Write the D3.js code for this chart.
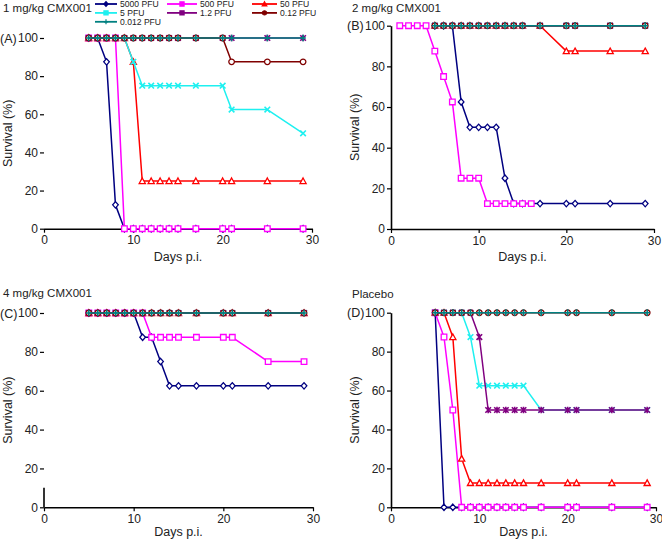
<!DOCTYPE html>
<html>
<head>
<meta charset="utf-8">
<script src="https://cdn.jsdelivr.net/npm/d3@7"></script>
<style>
  html, body { margin: 0; padding: 0; background: #fff; }
  svg { display: block; font-family: "Liberation Sans", Arial, sans-serif; }
</style>
</head>
<body>
<svg id="chart" width="662" height="540"></svg>
<script>
// ---------- DATA ----------
const seriesNames = ["5000 PFU", "500 PFU", "50 PFU", "5 PFU", "1.2 PFU", "0.12 PFU", "0.012 PFU"];
const seriesColors = ["#000080", "#ff00ff", "#ff0000", "#1ef0f0", "#800080", "#800000", "#008080"];
const seriesMarkers = ["diamond", "square", "triangle", "times", "asterisk", "circle", "plus"];
const legendMarkers = ["diamondF", "squareF", "triangleF", "squareF", "squareF", "circleF", "plus"];

const xTicks = [0, 10, 20, 30];
const yTicks = [0, 20, 40, 60, 80, 100];

// Panel A: 1 mg/kg CMX001
const daysA = [5, 6, 7, 8, 9, 10, 11, 12, 13, 14, 15, 17, 20, 21, 25, 29];
const A_5000 = [100, 100, 87.5, 12.5, 0, 0, 0, 0, 0, 0, 0, 0, 0, 0, 0, 0];
const A_500  = [100, 100, 100, 100, 0, 0, 0, 0, 0, 0, 0, 0, 0, 0, 0, 0];
const A_50   = [100, 100, 100, 100, 100, 87.5, 25, 25, 25, 25, 25, 25, 25, 25, 25, 25];
const A_5    = [100, 100, 100, 100, 100, 87.5, 75, 75, 75, 75, 75, 75, 75, 62.5, 62.5, 50];
const A_1_2  = [100, 100, 100, 100, 100, 100, 100, 100, 100, 100, 100, 100, 100, 100, 100, 100];
const A_0_12 = [100, 100, 100, 100, 100, 100, 100, 100, 100, 100, 100, 100, 100, 87.5, 87.5, 87.5];
const A_0_012= [100, 100, 100, 100, 100, 100, 100, 100, 100, 100, 100, 100, 100, 100, 100, 100];

// Panel B: 2 mg/kg CMX001
const daysB = [1, 2, 3, 4, 5, 6, 7, 8, 9, 10, 11, 12, 13, 14, 15, 16, 17, 20, 21, 25, 29];
const B_5000 = [null, null, null, null, 100, 100, 100, 62.5, 50, 50, 50, 50, 25, 12.5, 12.5, null, 12.5, 12.5, 12.5, 12.5, 12.5];
const B_500  = [100, 100, 100, 100, 87.5, 75, 62.5, 25, 25, 25, 12.5, 12.5, 12.5, 12.5, 12.5, 12.5, null, null, null, null, null];
const B_50   = [null, null, null, null, 100, 100, 100, 100, 100, 100, 100, 100, 100, 100, 100, null, 100, 87.5, 87.5, 87.5, 87.5];
const B_5    = [null, null, null, null, 100, 100, 100, 100, 100, 100, 100, 100, 100, 100, 100, null, 100, 100, 100, 100, 100];
const B_1_2  = [null, null, null, null, 100, 100, 100, 100, 100, 100, 100, 100, 100, 100, 100, null, 100, 100, 100, 100, 100];
const B_0_12 = [null, null, null, null, 100, 100, 100, 100, 100, 100, 100, 100, 100, 100, 100, null, 100, 100, 100, 100, 100];
const B_0_012= [null, null, null, null, 100, 100, 100, 100, 100, 100, 100, 100, 100, 100, 100, null, 100, 100, 100, 100, 100];

// Panel C: 4 mg/kg CMX001
const daysC = [5, 6, 7, 8, 9, 10, 11, 12, 13, 14, 15, 17, 20, 21, 25, 29];
const C_5000 = [100, 100, 100, 100, 100, 100, 87.5, 87.5, 75, 62.5, 62.5, 62.5, 62.5, 62.5, 62.5, 62.5];
const C_500  = [100, 100, 100, 100, 100, 100, 100, 87.5, 87.5, 87.5, 87.5, 87.5, 87.5, 87.5, 75, 75];
const C_50   = [100, 100, 100, 100, 100, 100, 100, 100, 100, 100, 100, 100, 100, 100, 100, 100];
const C_5    = [100, 100, 100, 100, 100, 100, 100, 100, 100, 100, 100, 100, 100, 100, 100, 100];
const C_1_2  = [100, 100, 100, 100, 100, 100, 100, 100, 100, 100, 100, 100, 100, 100, 100, 100];
const C_0_12 = [100, 100, 100, 100, 100, 100, 100, 100, 100, 100, 100, 100, 100, 100, 100, 100];
const C_0_012= [100, 100, 100, 100, 100, 100, 100, 100, 100, 100, 100, 100, 100, 100, 100, 100];

// Panel D: Placebo
const daysD = [5, 6, 7, 8, 9, 10, 11, 12, 13, 14, 15, 17, 20, 21, 25, 29];
const D_5000 = [100, 0, 0, 0, 0, 0, 0, 0, 0, 0, 0, 0, 0, 0, 0, 0];
const D_500  = [100, 87.5, 50, 0, 0, 0, 0, 0, 0, 0, 0, 0, 0, 0, 0, 0];
const D_50   = [100, 100, 87.5, 25, 12.5, 12.5, 12.5, 12.5, 12.5, 12.5, 12.5, 12.5, 12.5, 12.5, 12.5, 12.5];
const D_5    = [100, 100, 100, 100, 87.5, 62.5, 62.5, 62.5, 62.5, 62.5, 62.5, 50, 50, 50, 50, 50];
const D_1_2  = [100, 100, 100, 100, 100, 87.5, 50, 50, 50, 50, 50, 50, 50, 50, 50, 50];
const D_0_12 = [100, 100, 100, 100, 100, 100, 100, 100, 100, 100, 100, 100, 100, 100, 100, 100];
const D_0_012= [100, 100, 100, 100, 100, 100, 100, 100, 100, 100, 100, 100, 100, 100, 100, 100];

const panelTitles = ["1 mg/kg CMX001", "2 mg/kg CMX001", "4 mg/kg CMX001", "Placebo"];
const panelLetters = ["(A)", "(B)", "(C)", "(D)"];

// ---------- LAYOUT ----------
const panels = [
  { days: daysA, series: [A_5000, A_500, A_50, A_5, A_1_2, A_0_12, A_0_012],
    x0: 44, x1: 312, yTop: 38, yBot: 228.7, yAxis: "none", titleX: 3, titleY: 12, letterX: 0, xLab: 32 },
  { days: daysB, series: [B_5000, B_500, B_50, B_5, B_1_2, B_0_12, B_0_012],
    x0: 391, x1: 654, yTop: 25.7, yBot: 229, yAxis: "full", titleX: 352, titleY: 11.5, letterX: 347, xLab: 32 },
  { days: daysC, series: [C_5000, C_500, C_50, C_5, C_1_2, C_0_12, C_0_012],
    x0: 44, x1: 313, yTop: 313, yBot: 507.3, yAxis: "stub", titleX: 3, titleY: 297, letterX: 0, xLab: 28.5 },
  { days: daysD, series: [D_5000, D_500, D_50, D_5, D_1_2, D_0_12, D_0_012],
    x0: 391, x1: 656, yTop: 312.7, yBot: 507.3, yAxis: "full", titleX: 352, titleY: 298, letterX: 347, xLab: 28.5 }
];

const svg = d3.select("#chart");
const FONT = "'Liberation Sans', Arial, sans-serif";

function markerPath(type, s) {
  switch (type) {
    case "diamond": case "diamondF": return `M0,${-s*1.15}L${s},0L0,${s*1.15}L${-s},0Z`;
    case "square": case "squareF": return `M${-s},${-s}H${s}V${s}H${-s}Z`;
    case "triangle": case "triangleF": return `M0,${-s*1.1}L${s*1.1},${s*0.9}L${-s*1.1},${s*0.9}Z`;
    case "times": return `M${-s},${-s}L${s},${s}M${-s},${s}L${s},${-s}`;
    case "asterisk": return `M${-s},${-s}L${s},${s}M${-s},${s}L${s},${-s}M0,${-s*1.2}V${s*1.2}`;
    case "circle": case "circleF":
      return `M${s},0A${s},${s} 0 1,1 ${-s},0A${s},${s} 0 1,1 ${s},0Z`;
    case "plus": return `M${-s},0H${s}M0,${-s*1.2}V${s*1.2}`;
  }
}
function isOpenShape(t) { return t === "times" || t === "asterisk" || t === "plus"; }

panels.forEach((p, pi) => {
  const x = d3.scaleLinear().domain([0, 30]).range([p.x0, p.x1]);
  const y = d3.scaleLinear().domain([0, 100]).range([p.yBot, p.yTop]);
  const g = svg.append("g");

  // x axis
  const xa = g.append("g").attr("transform", `translate(0,${p.yBot})`)
    .call(d3.axisBottom(x).tickValues(xTicks).tickSize(4).tickPadding(3).tickSizeOuter(0));
  xa.attr("font-family", FONT);
  xa.select(".domain").attr("stroke", "#000").attr("stroke-width", 1.6);
  xa.selectAll(".tick line").attr("stroke", "#000").attr("stroke-width", 1.2);
  xa.selectAll(".tick text").attr("font-size", 12).attr("fill", "#222");

  // y axis
  const ya = g.append("g").attr("transform", `translate(${p.x0},0)`)
    .call(d3.axisLeft(y).tickValues(yTicks).tickSize(4).tickPadding(2).tickSizeOuter(0));
  ya.attr("font-family", FONT);
  ya.select(".domain").attr("stroke", "#000").attr("stroke-width", 1.6);
  if (p.yAxis === "none") ya.select(".domain").remove();
  if (p.yAxis === "stub") ya.select(".domain").attr("d", `M0,${y(0)}V${y(10)}`);
  ya.selectAll(".tick line").attr("stroke", "#000").attr("stroke-width", 1.2);
  ya.selectAll(".tick text").attr("font-size", 12).attr("fill", "#222");

  // titles
  g.append("text").attr("x", p.titleX).attr("y", p.titleY).attr("font-size", 11.5).attr("fill", "#222").text(panelTitles[pi]);
  g.append("text").attr("x", p.letterX).attr("y", y(100) + 4.5).attr("font-size", 12.5).attr("fill", "#222").text(panelLetters[pi]);
  g.append("text").attr("text-anchor", "middle").attr("font-size", 12.5).attr("fill", "#222")
    .attr("transform", `translate(${(p.x0 + p.x1) / 2},${p.yBot + p.xLab}) `)
    .text("Days p.i.");
  g.append("text").attr("text-anchor", "middle").attr("font-size", 12.5).attr("fill", "#222")
    .attr("transform", `translate(${p.x0 - 32},${(p.yTop + p.yBot) / 2}) rotate(-90)`)
    .text("Survival (%)");

  // series
  const line = d3.line().x(d => x(d.day)).y(d => y(d.v));
  p.series.forEach((vals, si) => {
    const pts = p.days.map((day, i) => ({ day, v: vals[i] })).filter(d => d.v !== null);
    const col = seriesColors[si];
    const sg = g.append("g");
    sg.append("path").datum(pts).attr("d", line).attr("fill", "none")
      .attr("stroke", col).attr("stroke-width", 1.5).attr("stroke-linejoin", "round");
    const mt = seriesMarkers[si];
    sg.selectAll("path.m").data(pts).join("path").attr("class", "m")
      .attr("transform", d => `translate(${x(d.day)},${y(d.v)})`)
      .attr("d", markerPath(mt, 2.8))
      .attr("fill", isOpenShape(mt) ? "none" : "#fff")
      .attr("stroke", col).attr("stroke-width", isOpenShape(mt) ? 1.6 : 1.3);
  });
});

// legend
const legendCols = [95, 167, 252];
const legendLineLen = [22, 30, 25];
const legendRows = [4.0, 12.9, 21.8];
seriesNames.forEach((name, i) => {
  const col = i % 3, row = Math.floor(i / 3);
  const lx = legendCols[col], ly = legendRows[row], len = legendLineLen[col];
  const lg = svg.append("g");
  lg.append("line").attr("x1", lx).attr("x2", lx + len).attr("y1", ly).attr("y2", ly)
    .attr("stroke", seriesColors[i]).attr("stroke-width", 1.8);
  const mt = legendMarkers[i];
  lg.append("path").attr("transform", `translate(${lx + len / 2},${ly})`)
    .attr("d", markerPath(mt, 2.1))
    .attr("fill", isOpenShape(mt) ? "none" : seriesColors[i])
    .attr("stroke", seriesColors[i]).attr("stroke-width", 1.2);
  lg.append("text").attr("x", lx + len + 3).attr("y", ly + 3.1).attr("font-size", 8.6).attr("fill", "#222").text(name);
});
</script>
</body>
</html>
